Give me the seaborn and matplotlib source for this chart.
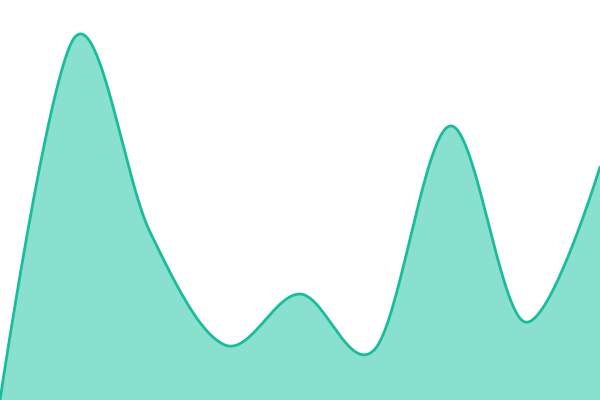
import numpy as np
import pandas as pd
import matplotlib
matplotlib.use("Agg")
import matplotlib.pyplot as plt
import seaborn as sns

# Data
x_idx = [0, 1, 2, 3, 4, 5, 6, 7, 8]
values = [0, 363, 168, 55, 106, 51, 274, 78, 233]

LINE = "#1abc9c"
FILL = "#8ae0ce"


def cardinal_curve(xs, ys, tension=0.0, steps=60):
    """Cardinal spline (as d3.curveCardinal) through the data points."""
    k = (1 - tension) / 6.0
    P = np.column_stack([xs, ys]).astype(float)
    n = len(P)
    out = [P[0]]
    t = np.linspace(0, 1, steps)[1:, None]
    for i in range(n - 1):
        p0, p3 = P[i], P[i + 1]
        prev = P[i - 1] if i > 0 else P[i + 1]
        nxt = P[i + 2] if i + 2 < n else P[i]
        c1 = p0 + k * (p3 - prev) if i > 0 else p0
        c2 = p3 + k * (p0 - nxt) if i + 2 < n else p3
        seg = ((1 - t) ** 3) * p0 + 3 * ((1 - t) ** 2) * t * c1 + 3 * (1 - t) * t ** 2 * c2 + t ** 3 * p3
        out.extend(seg)
    out = np.array(out)
    return out[:, 0], out[:, 1]


sns.set_theme(style="white")
fig = plt.figure(figsize=(6, 4), dpi=100)
ax = fig.add_axes([0, 0, 1, 1])

cx, cy = cardinal_curve(x_idx, values)
df = pd.DataFrame({"x": cx, "y": cy})
ax.fill_between(df["x"], df["y"], 0, color=FILL, linewidth=0, zorder=1)
sns.lineplot(data=df, x="x", y="y", color=LINE, linewidth=2.0, sort=False,
             estimator=None, ax=ax, zorder=2)

ax.set_xlim(0, 8)
ax.set_ylim(0, 400)
ax.set_axis_off()
fig.savefig("out.png", dpi=100)
